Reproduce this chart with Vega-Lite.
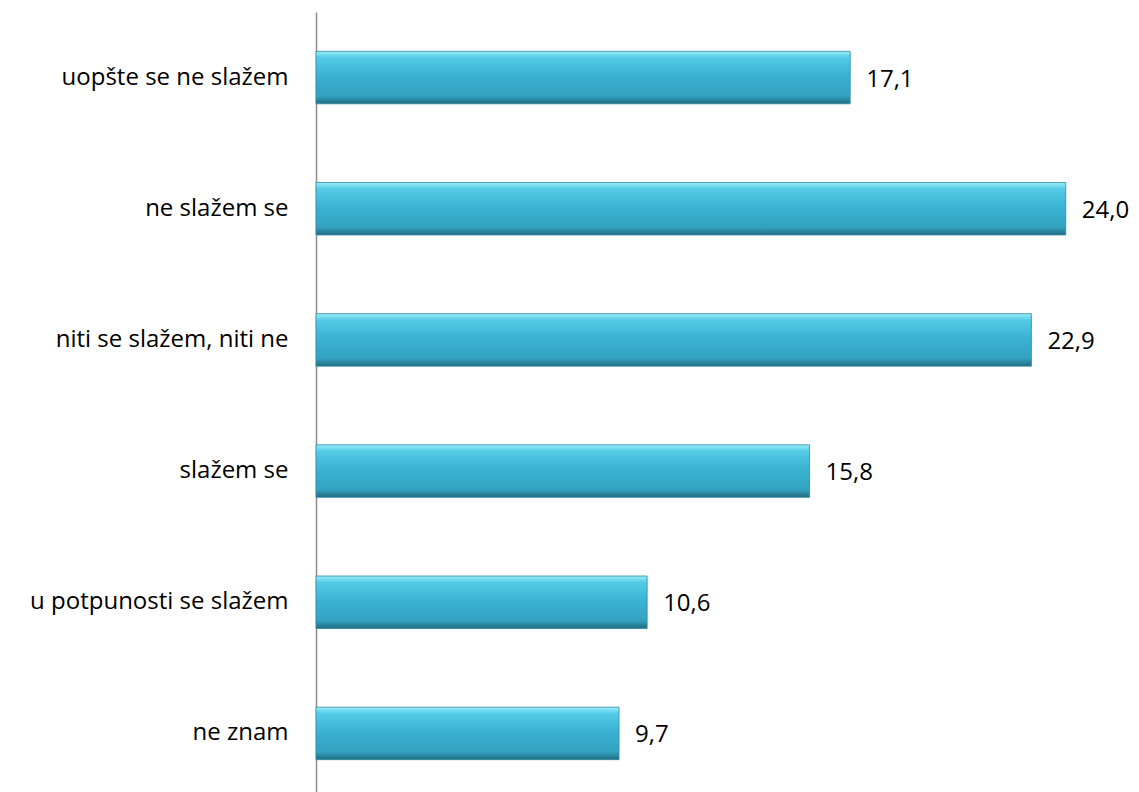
{
  "$schema": "https://vega.github.io/schema/vega-lite/v6.json",
  "width": 781,
  "height": 787,
  "autosize": {"type": "none"},
  "padding": {"left": 316, "top": 12, "right": 42, "bottom": 0},
  "background": "white",
  "config": {
    "view": {"stroke": null},
    "locale": {"number": {"decimal": ",", "thousands": ".", "grouping": [3], "currency": ["", ""]}}
  },
  "data": {
    "values": [
      {"kategorija": "uopšte se ne slažem", "vrednost": 17.1},
      {"kategorija": "ne slažem se", "vrednost": 24.0},
      {"kategorija": "niti se slažem, niti ne", "vrednost": 22.9},
      {"kategorija": "slažem se", "vrednost": 15.8},
      {"kategorija": "u potpunosti se slažem", "vrednost": 10.6},
      {"kategorija": "ne znam", "vrednost": 9.7}
    ]
  },
  "encoding": {
    "y": {
      "field": "kategorija",
      "type": "nominal",
      "sort": null,
      "scale": {"paddingInner": 0.6, "paddingOuter": 0.3},
      "axis": {
        "title": null,
        "ticks": false,
        "domainColor": "#8c8c8c",
        "domainWidth": 1.5,
        "labelFont": "Open Sans",
        "labelFontSize": 24,
        "labelColor": "#000000",
        "labelPadding": 28,
        "labelLimit": 320
      }
    },
    "x": {
      "field": "vrednost",
      "type": "quantitative",
      "scale": {"domain": [0, 25]},
      "axis": null
    }
  },
  "layer": [
    {
      "mark": {
        "type": "bar",
        "color": {
          "x1": 0, "y1": 0, "x2": 0, "y2": 1,
          "gradient": "linear",
          "stops": [
            {"offset": 0, "color": "#9aeefa"},
            {"offset": 0.12, "color": "#55cbe6"},
            {"offset": 0.45, "color": "#3bb3d3"},
            {"offset": 0.85, "color": "#33a2c0"},
            {"offset": 1, "color": "#226c80"}
          ]
        },
        "stroke": "#2c8aa3",
        "strokeWidth": 0.8
      }
    },
    {
      "mark": {
        "type": "text",
        "align": "left",
        "baseline": "middle",
        "dx": 16,
        "dy": 2,
        "font": "Open Sans",
        "fontSize": 24,
        "color": "#000000"
      },
      "encoding": {
        "text": {"field": "vrednost", "type": "quantitative", "format": ".1f"}
      }
    }
  ]
}
